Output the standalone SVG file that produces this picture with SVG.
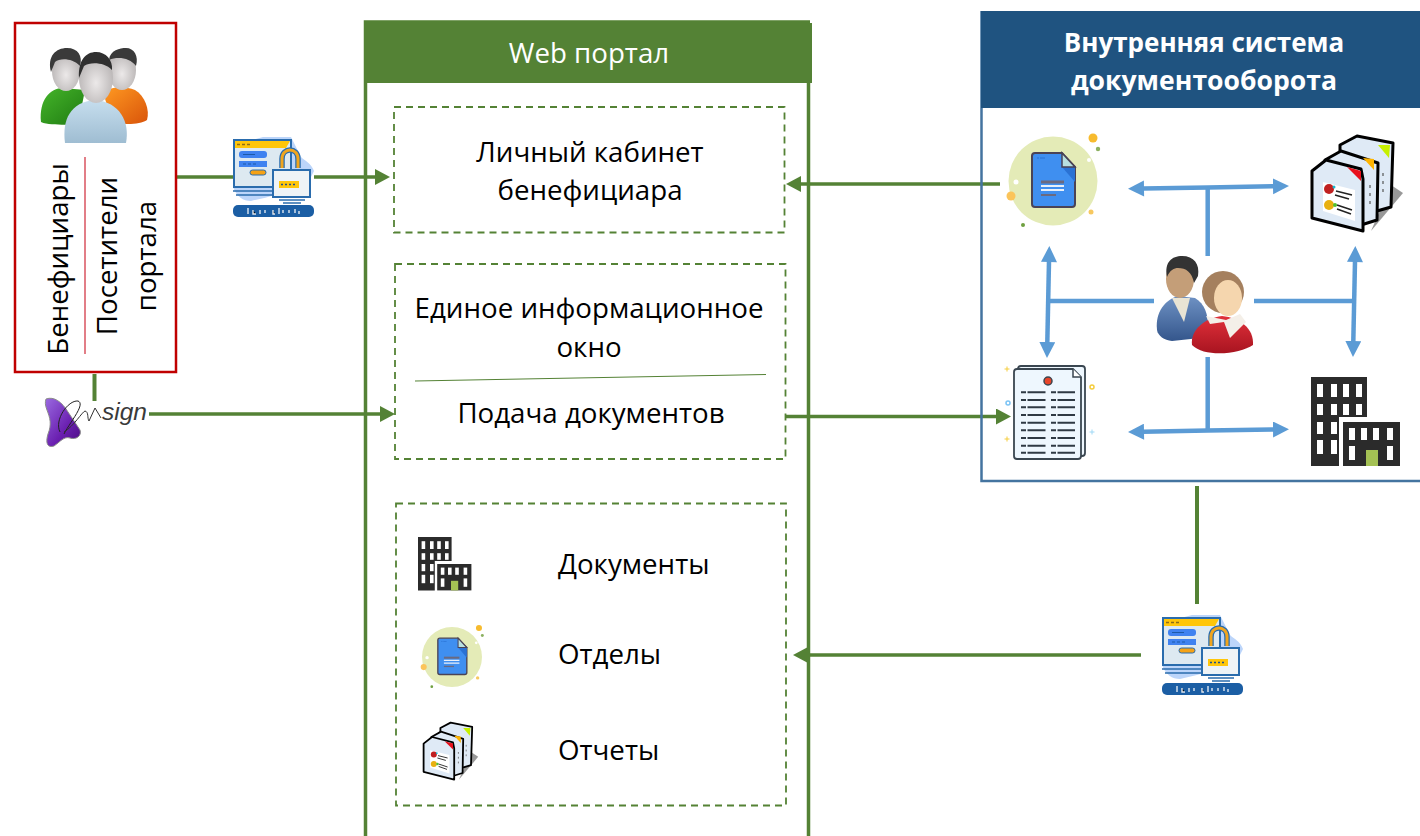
<svg xmlns="http://www.w3.org/2000/svg" width="1420" height="836" viewBox="0 0 1420 836">
<style>
text{font-family:"Open Sans","Noto Sans","Liberation Sans",sans-serif;fill:#000}
.t{font-size:27.700px}
.m{text-anchor:middle}
.w{fill:#fff}
.b{font-weight:700;font-size:26px}
.g{fill:none;stroke:#548235;stroke-width:3.500}
.gt{stroke-width:4}
.bl{fill:none;stroke:#5B9BD5;stroke-width:4.500}
.d{fill:none;stroke:#548235;stroke-width:1.800;stroke-dasharray:7 5}
.ga{marker-end:url(#ag)}
.ba2{marker-start:url(#ab2);marker-end:url(#ab)}
.dl{stroke:#2f3a44;stroke-width:2;stroke-dasharray:5 1.500 18 100}
</style>
<defs>
<marker id="ag" markerUnits="userSpaceOnUse" markerWidth="16" markerHeight="18" refX="1" refY="8" orient="auto"><path d="M0,0L15,8L0,16Z" fill="#548235"/></marker>
<marker id="ab" markerUnits="userSpaceOnUse" markerWidth="17" markerHeight="18" refX="1" refY="8" orient="auto"><path d="M0,0L16,8L0,16Z" fill="#5B9BD5"/></marker>
<marker id="ab2" markerUnits="userSpaceOnUse" markerWidth="17" markerHeight="18" refX="15" refY="8" orient="auto"><path d="M16,0L0,8L16,16Z" fill="#5B9BD5"/></marker>
<radialGradient id="face" cx=".5" cy=".6" r=".6"><stop offset="0" stop-color="#ece9e9"/><stop offset="1" stop-color="#b5b1b1"/></radialGradient>
<linearGradient id="gr" x1="0" y1="0" x2="1" y2="1"><stop offset="0" stop-color="#45b52a"/><stop offset="1" stop-color="#1f7a12"/></linearGradient>
<linearGradient id="or" x1="0" y1="0" x2="1" y2="1"><stop offset="0" stop-color="#ff9a22"/><stop offset="1" stop-color="#d9540a"/></linearGradient>
<linearGradient id="lb" x1="0" y1="0" x2="0" y2="1"><stop offset="0" stop-color="#c6deee"/><stop offset="1" stop-color="#9fbdd2"/></linearGradient>
<linearGradient id="pu" x1="0" y1="0" x2="1" y2="1"><stop offset="0" stop-color="#9a6ae0"/><stop offset=".6" stop-color="#6a1fb0"/><stop offset="1" stop-color="#4a0d80"/></linearGradient>
<linearGradient id="suit" x1="0" y1="0" x2="0" y2="1"><stop offset="0" stop-color="#6f92c4"/><stop offset="1" stop-color="#34568c"/></linearGradient>
<linearGradient id="red" x1="0" y1="0" x2="0" y2="1"><stop offset="0" stop-color="#e0303a"/><stop offset="1" stop-color="#a81420"/></linearGradient>

<g id="login">
<path d="M0,50C4,60 10,64 18,64C26,62 36,60 42,58L70,56L81,34C78,26 72,24 68,20L58,0L30,0L0,8Z" fill="#bcd5fa"/>
<rect x="1" y="3" width="57" height="47" fill="#dde9f1" stroke="#2a6cad" stroke-width="2"/>
<path d="M2,4H57L53,11H2Z" fill="#ffc60a"/>
<path d="M4,7.500h3m2,0h3m2,0h3" stroke="#8a6d1a" stroke-width="1.500"/>
<rect x="6" y="14" width="28" height="7" rx="3" fill="#3f82f0"/><rect x="6" y="24" width="28" height="6" fill="#3f82f0"/>
<path d="M10,17.500h12M10,27h3m2,0h3m2,0h3" stroke="#1c5aa8" stroke-width="1"/>
<rect x="17" y="33" width="16" height="5" rx="2.500" fill="#f5a216" stroke="#2a6cad"/>
<path d="M0,54H40M3,58H40" stroke="#2a6cad" stroke-width="1.500"/>
<path d="M49,31V22C49,10 65,10 65,22V31" fill="none" stroke="#2a6cad" stroke-width="5.500"/>
<path d="M49,31V22C49,10 65,10 65,22V31" fill="none" stroke="#f0a51e" stroke-width="3"/>
<rect x="40" y="33" width="37" height="27" fill="#eef3f6" stroke="#2a6cad" stroke-width="2"/>
<rect x="46" y="44" width="20" height="7" fill="#ffc60a"/>
<path d="M48,47.500h2m2,0h2m2,0h2m2,0h2" stroke="#1c4f90" stroke-width="1.500"/>
<path d="M46,63H72M50,66H68" stroke="#2a6cad" stroke-width="1.500"/>
<rect x="0" y="68" width="81" height="12" rx="5" fill="#1b5ea4"/>
<path d="M15,71v6M20,73v4h3M27,73v4M32,73v3M40,73v4h2M46,71v6M50,73v3M56,73v3M62,72v4M66,74v3" stroke="#dfe8f2" stroke-width="1.400"/>
</g>

<g id="docc">
<circle r="44.500" fill="#e4ebb7"/>
<path d="M-18,-28H9L22,-14V23Q22,26 19,26H-18Q-21,26 -21,23V-25Q-21,-28 -18,-28Z" fill="#3f8ff0" stroke="#4a4356" stroke-width="2"/>
<path d="M9,-14H22V1Z" fill="#2a72d4"/>
<path d="M9,-28V-14H22Z" fill="#b8e0e0" stroke="#4a4356" stroke-width="1.500"/>
<path d="M-12,1H11" stroke="#6b6a80" stroke-width="3"/><path d="M-12,5H11M-12,9H11" stroke="#e8f0fa" stroke-width="2"/><path d="M-12,14H3" stroke="#6b6a80" stroke-width="2"/>
<path d="M-16,-23h2m1,0h5" stroke="#2a72d4" stroke-width="1"/>
<circle cx="40" cy="-43" r="4.500" fill="#f7bb2e"/><circle cx="45" cy="-32" r="2.200" fill="#8cb060"/><circle cx="-42" cy="15" r="4.500" fill="#fbc45a"/><circle cx="-30" cy="44" r="2" fill="#6fa040"/><circle cx="38" cy="31" r="2.500" fill="#f7c860"/><circle cx="-37" cy="1" r="2.500" fill="#fff"/><circle cx="36" cy="-21" r="2" fill="#fff"/>
</g>

<g id="rep">
<path d="M60,96L92,58L80,50Z" fill="#444" opacity=".55"/>
<g stroke="#000" stroke-width="3" stroke-linejoin="round">
<path d="M29,10L46,1L82,8L80,72L66,76L29,40Z" fill="#dfeaf6"/>
<path d="M67,10L79,10L78,23Z" fill="#c6f000" stroke="none"/>
<path d="M14,25L30,16L67,28L66,85L50,90L14,50Z" fill="#dfeaf6"/>
<path d="M52,23L63,24L63,35Z" fill="#ffb400" stroke="none"/>
<path d="M1,36L15,25L50,34L52,44L52,96L1,83Z" fill="#dfeaf6"/>
</g>
<path d="M36,32L50,36L50,46Z" fill="#e8101c"/>
<path d="M12,47L44,55L44,86L12,76Z" fill="#fff"/>
<circle cx="18" cy="54" r="5" fill="#c02020"/><circle cx="18" cy="70" r="5" fill="#e8b010"/><circle cx="23" cy="52" r="1.500" fill="#19b8d0"/><circle cx="24" cy="70" r="2" fill="#50c030"/>
<path d="M25,56L41,60M24,60L38,64M26,70L41,75M26,74L40,79" stroke="#222" stroke-width="1.500"/>
<path d="M59,50v3M59,58v3M59,66v3M72,38v3M72,46v3M72,54v3" stroke="#555" stroke-width="1.200"/>
</g>

<g id="bld">
<path d="M0,0H56V40H28V89H0Z" fill="#2b2b2b"/>
<rect x="32" y="45" width="57" height="44" fill="#2b2b2b"/>
<g fill="#fff">
<rect x="6" y="7" width="6" height="13"/><rect x="20" y="7" width="6" height="13"/><rect x="32" y="7" width="6" height="13"/><rect x="45" y="7" width="6" height="13"/>
<rect x="6" y="27" width="6" height="11"/><rect x="20" y="27" width="6" height="11"/><rect x="32" y="27" width="6" height="11"/><rect x="45" y="27" width="6" height="11"/>
<rect x="6" y="45" width="6" height="12"/><rect x="20" y="45" width="6" height="12"/>
<rect x="6" y="63" width="6" height="14"/><rect x="20" y="63" width="6" height="14"/>
<rect x="38" y="51" width="6" height="12"/><rect x="50" y="51" width="6" height="12"/><rect x="62" y="51" width="6" height="12"/><rect x="76" y="51" width="6" height="12"/>
<rect x="38" y="69" width="6" height="14"/><rect x="76" y="69" width="6" height="14"/>
</g>
<rect x="55" y="73" width="12" height="16" fill="#a4c154"/>
</g>
</defs>

<g id="connectors">
<path class="g" d="M177,177H233"/>
<path class="g ga" d="M314,177H376"/>
<path class="g gt" d="M94.500,374V401"/>
<path class="g ga" d="M149,414H381"/>
<path class="g ga" d="M1000,184H800"/>
<path class="g ga" d="M786,416.500H997"/>
<path class="g gt" d="M1197,486V604"/>
<path class="g ga" d="M1141,655H807"/>
<path class="bl ba2" d="M1143,188.500L1207.700,187.500L1274,186.300"/>
<path class="bl" d="M1207.700,188V256"/>
<path class="bl ba2" d="M1049,261L1047.300,343"/>
<path class="bl" d="M1049,301H1154"/>
<path class="bl ba2" d="M1355,261L1353.300,342"/>
<path class="bl" d="M1254,301H1354"/>
<path class="bl ba2" d="M1143,431.700L1207.700,430.500L1274,429.500"/>
<path class="bl" d="M1207.700,357V431"/>
</g>

<g id="beneficiaries">
<rect x="15" y="23" width="161" height="349" fill="#fff" stroke="#C00000" stroke-width="2.500"/>
<g id="people-icon">
<path d="M41,122C39,100 50,88 63,88L85,90L78,125C66,124 50,126 41,122Z" fill="url(#gr)"/>
<path d="M103,92C112,86 125,86 135,90C145,96 150,110 147,120C140,125 122,125 112,122Z" fill="url(#or)"/>
<ellipse cx="66" cy="71" rx="14" ry="20" fill="url(#face)"/><path d="M51,72C47,56 56,48 67,48C78,48 83,56 80,66C72,58 60,58 55,62Z" fill="#3a3a3a"/>
<ellipse cx="122" cy="70" rx="14" ry="20" fill="url(#face)"/><path d="M109,60C110,50 120,48 126,48C134,48 139,56 136,66C130,58 118,56 109,60Z" fill="#3a3a3a"/>
<path d="M65,143C62,120 70,102 95,100C120,102 130,122 126,143Z" fill="url(#lb)"/>
<ellipse cx="96" cy="78" rx="17" ry="25" fill="url(#face)"/><path d="M79,78C78,60 86,52 96,52C106,52 113,60 112,70C104,62 90,62 84,66Z" fill="#303030"/>
</g>
<path d="M85,157V354" stroke="#D9535F" stroke-width="1.500"/>
<text class="t m" transform="translate(68,259) rotate(-90)">Бенефициары</text>
<text class="t m" transform="translate(117,256) rotate(-90)">Посетители</text>
<text class="t m" transform="translate(156,256) rotate(-90)">портала</text>
</g>

<g id="login-left"><use href="#login" transform="translate(233,137)"/></g>

<g id="msign">
<path d="M46,399C54,396 62,402 68,412C72,418 76,424 80,430C82,436 76,440 70,438C64,436 60,442 54,446C48,448 45,444 48,434C52,424 50,418 47,410C45,405 45,402 46,399Z" fill="url(#pu)" stroke="#8a8a8a" stroke-width="1"/>
<path d="M60,432C54,420 68,400 78,401C86,404 70,422 64,434" fill="none" stroke="#222" stroke-width="1"/>
<path d="M64,432C74,426 82,412 85,411C89,412 87,418 89,421L95,408L101,418" fill="none" stroke="#333" stroke-width="1"/>
<text x="102" y="420" style="font-family:'Liberation Sans',sans-serif;font-style:italic;font-size:24.500px;fill:#3a3a3a">sign</text>
</g>

<g id="web-portal">
<path class="g" d="M365.500,836V22H810" />
<path class="g" d="M808.500,80V836"/>
<rect x="366" y="23" width="446" height="60" fill="#548235"/>
<text class="t m w" x="589" y="63">Web портал</text>
</g>

<g id="cabinet">
<rect class="d" x="394" y="107" width="390.500" height="125.500"/>
<text class="t m" x="590" y="162">Личный кабинет</text>
<text class="t m" x="590" y="200">бенефициара</text>
</g>

<g id="info-window">
<rect class="d" x="395" y="264" width="390.500" height="195"/>
<text class="t m" x="589" y="318">Единое информационное</text>
<text class="t m" x="589" y="357">окно</text>
<path d="M415,381L766,374.500" stroke="#548235" stroke-width="1" fill="none"/>
<text class="t m" x="591" y="423">Подача документов</text>
</g>

<g id="lists">
<rect class="d" x="396" y="503.500" width="390" height="302"/>
<use href="#bld" transform="translate(418,537) scale(.6)"/>
<use href="#docc" transform="translate(452,657) scale(.674)"/>
<use href="#rep" transform="translate(423,722) scale(.6)"/>
<text class="t" x="558" y="574">Документы</text>
<text class="t" x="558" y="664">Отделы</text>
<text class="t" x="558" y="760">Отчеты</text>
</g>

<g id="internal-system">
<path d="M981.500,11V481H1420" fill="none" stroke="#4474a0" stroke-width="2.500"/>
<rect x="981" y="11" width="439" height="97" fill="#1F5380"/>
<text class="b m w" x="1204" y="52">Внутренняя система</text>
<text class="b m w" x="1204" y="90" style="font-size:26.600px">документооборота</text>
</g>

<g id="doc-icon"><use href="#docc" transform="translate(1053,181)"/></g>
<g id="reports-icon"><use href="#rep" transform="translate(1311,135)"/></g>
<g id="building-icon"><use href="#bld" transform="translate(1311,377)"/></g>

<g id="doclist-icon">
<rect x="1018" y="366" width="67" height="90" rx="3" fill="#eef7fe" stroke="#3a4650" stroke-width="1.800"/>
<path d="M1017,369H1073L1081,377V456Q1081,459 1078,459H1017Q1014,459 1014,456V372Q1014,369 1017,369Z" fill="#eef7fe" stroke="#3a4650" stroke-width="1.800"/>
<path d="M1073,369V377H1081" fill="#fff" stroke="#3a4650" stroke-width="1.500"/>
<circle cx="1048" cy="381" r="4" fill="#e8452a" stroke="#3a4650" stroke-width="1.500"/>
<path class="dl" d="M1021,392.300H1046M1051,392.300H1075M1021,400H1046M1051,400H1075M1021,407.300H1046M1051,407.300H1075M1021,415H1046M1051,415H1075M1021,422.700H1046M1051,422.700H1075M1021,430.300H1046M1051,430.300H1075M1021,438H1046M1051,438H1075M1021,445.700H1046M1051,445.700H1075M1021,452.700H1046M1051,452.700H1075"/>
<path d="M1004.500,369h5M1007,366.500v5M1004.500,439h5M1007,436.500v5" stroke="#f5cd3c" stroke-width="1"/>
<path d="M1089.500,432h5M1092,429.500v5" stroke="#9fd8f5" stroke-width="1"/>
<circle cx="1092" cy="387" r="2" fill="none" stroke="#f5cd3c" stroke-width="1.500"/>
<circle cx="1008" cy="403" r="2" fill="none" stroke="#7cc4f5" stroke-width="1.500"/>
</g>

<g id="staff-icon">
<path d="M1157,330C1155,312 1165,300 1178,296L1195,298C1205,304 1208,315 1208,325L1200,338L1172,341C1164,340 1158,336 1157,330Z" fill="url(#suit)"/>
<path d="M1172,298L1184,322L1190,298Z" fill="#e9e4d4"/>
<ellipse cx="1180" cy="279" rx="14" ry="19" fill="#c49e78"/>
<path d="M1167,277C1164,262 1172,256 1182,256C1194,256 1200,264 1198,276L1194,283C1192,272 1186,268 1178,268C1174,268 1170,270 1167,277Z" fill="#333"/>
<circle cx="1223" cy="292" r="21" fill="#a5805e"/>
<ellipse cx="1228" cy="298" rx="14" ry="18" fill="#f5d6ae"/>
<path d="M1192,345C1190,330 1205,318 1222,316C1240,318 1254,328 1253,345C1240,354 1205,358 1192,345Z" fill="url(#red)"/>
<path d="M1206,316L1226,320L1240,314L1246,322L1230,338L1224,322L1210,324Z" fill="#f4efe8"/>
</g>

<g id="login-right"><use href="#login" transform="translate(1162,615)"/></g>
</svg>
